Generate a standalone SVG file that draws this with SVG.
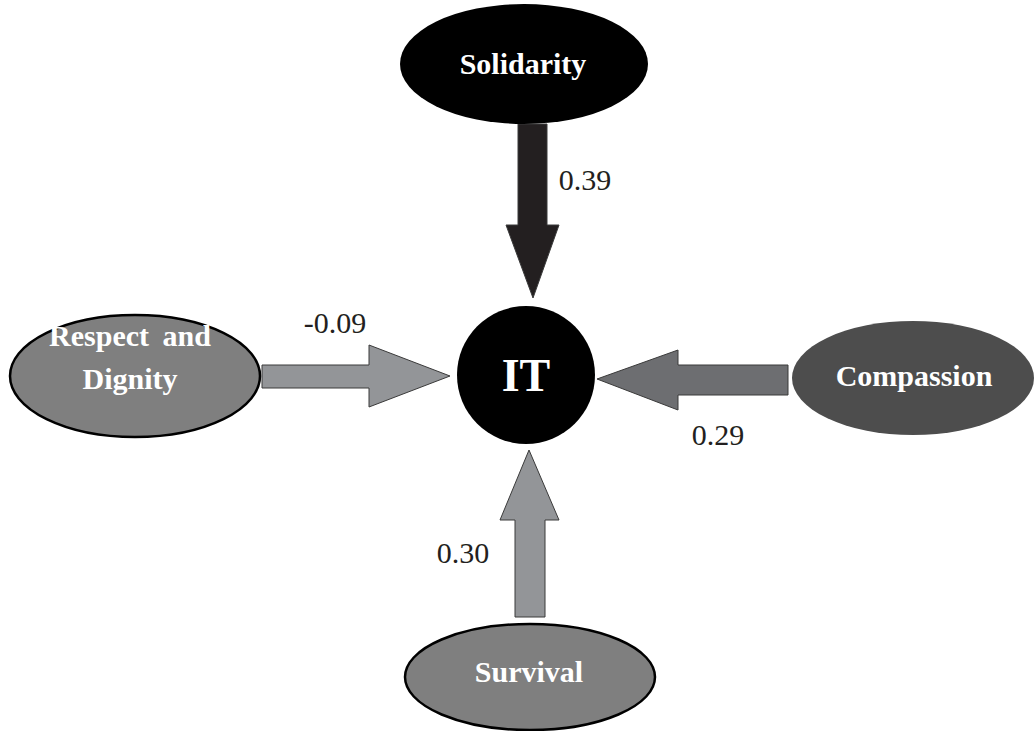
<svg xmlns="http://www.w3.org/2000/svg" width="1035" height="731" viewBox="0 0 1035 731">
<style>
.lbl{font-family:'Liberation Serif',serif;font-weight:bold;font-size:30px;fill:#fff;text-anchor:middle}
.num{font-family:'Liberation Serif',serif;font-size:30px;fill:#231f20;text-anchor:middle}
.arr{stroke:#3a3a3a;stroke-width:1}
</style>
<rect width="1035" height="731" fill="#fff"/>
<g id="connectors">
<polygon class="arr" fill="#231f20" stroke="#231f20" points="518,124 547,124 547,225 559,225 533,298 506,225 518,225"/>
<polygon class="arr" fill="#939598" points="262,365 369,365 369,345 450,376 369,407 369,388 262,388"/>
<polygon class="arr" fill="#6d6e71" stroke="#6d6e71" points="788,365 678,365 678,350 597,379 678,410 678,395 788,395"/>
<polygon class="arr" fill="#939598" points="515,617 545,617 545,520 559,520 529,450 500,520 515,520"/>
<text class="num" font-family="Liberation Serif, serif" x="585" y="190">0.39</text>
<text class="num" font-family="Liberation Serif, serif" x="335" y="333">-0.09</text>
<text class="num" font-family="Liberation Serif, serif" x="718" y="445">0.29</text>
<text class="num" font-family="Liberation Serif, serif" x="463" y="563">0.30</text>
</g>
<g id="solidarity">
<ellipse cx="524" cy="64" rx="124" ry="60" fill="#000"/>
<text class="lbl" x="523" y="74">Solidarity</text>
</g>
<g id="it">
<circle cx="526" cy="375" r="69" fill="#000"/>
<text class="lbl" x="526" y="391" style="font-size:46px">IT</text>
</g>
<g id="respect">
<ellipse cx="135" cy="376" rx="125" ry="61" fill="#7f7f7f" stroke="#000" stroke-width="2.5"/>
<text class="lbl" x="130" y="346" word-spacing="6">Respect and</text>
<text class="lbl" x="130" y="389">Dignity</text>
</g>
<g id="compassion">
<ellipse cx="913" cy="378" rx="121" ry="57" fill="#4d4d4d"/>
<text class="lbl" x="914" y="386">Compassion</text>
</g>
<g id="survival">
<ellipse cx="530" cy="677" rx="125" ry="53" fill="#7f7f7f" stroke="#000" stroke-width="2.5"/>
<text class="lbl" x="529" y="682">Survival</text>
</g>
</svg>
